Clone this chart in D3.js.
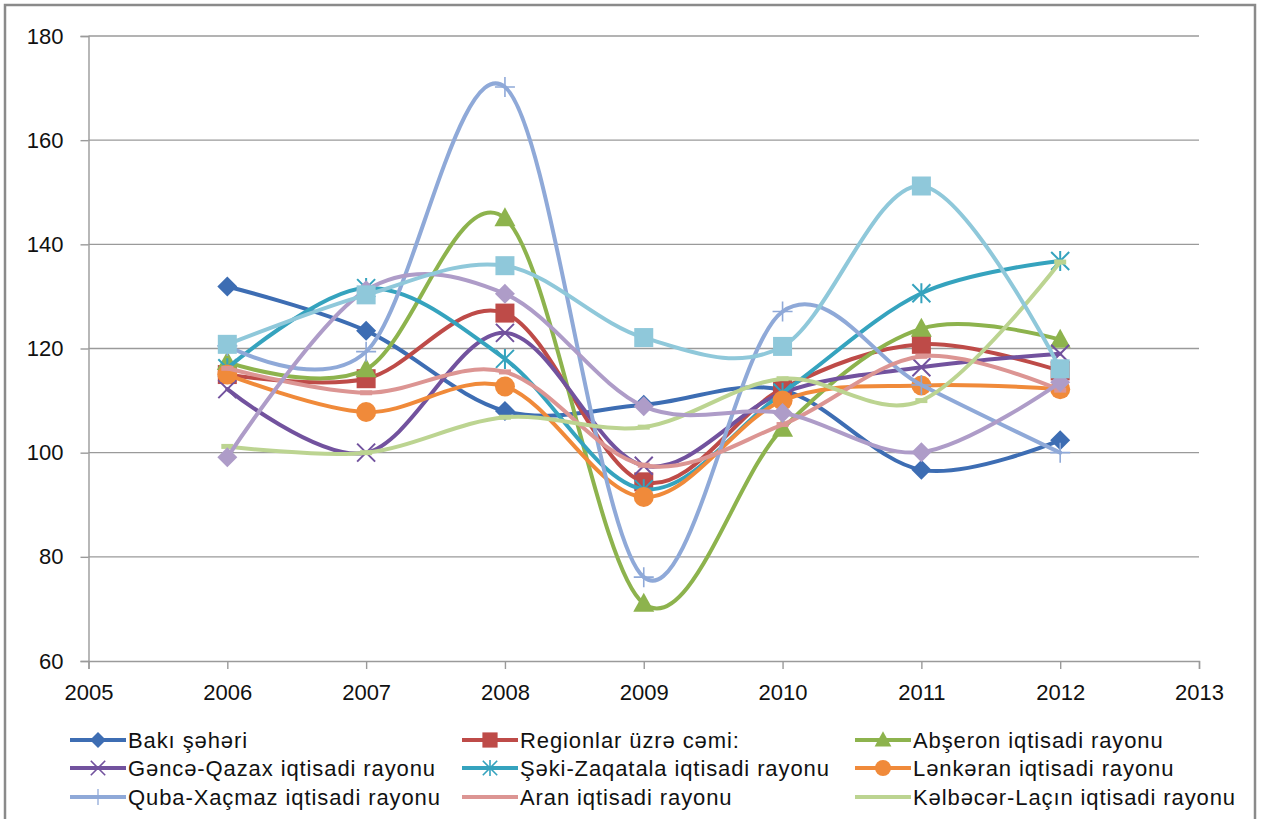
<!DOCTYPE html>
<html><head><meta charset="utf-8">
<script src="https://cdn.jsdelivr.net/npm/d3@7"></script>
<style>
html,body{margin:0;padding:0;background:#fff;}
svg text{font-family:"Liberation Sans",Arial,sans-serif;fill:#111;}
</style></head>
<body><svg id="c" width="1261" height="819"></svg>
<script>
// ---- data ----
const years = [2006, 2007, 2008, 2009, 2010, 2011, 2012];
const xTicks = [2005, 2006, 2007, 2008, 2009, 2010, 2011, 2012, 2013];
const yTicks = [60, 80, 100, 120, 140, 160, 180];

const seriesNames = [
  "Bakı şəhəri",
  "Regionlar üzrə cəmi:",
  "Abşeron iqtisadi rayonu",
  "Gəncə-Qazax iqtisadi rayonu",
  "Şəki-Zaqatala iqtisadi rayonu",
  "Lənkəran iqtisadi rayonu",
  "Quba-Xaçmaz iqtisadi rayonu",
  "Aran iqtisadi rayonu",
  "Kəlbəcər-Laçın iqtisadi rayonu",
  "",
  ""
];
const baki      = [131.9, 123.4, 108.0, 109.2, 112.0, 96.7, 102.4];
const regionlar = [115.0, 114.2, 126.8, 94.4, 112.3, 120.8, 115.7];
const abseron   = [117.4, 116.0, 145.0, 71.0, 104.6, 123.8, 121.7];
const gence     = [112.2, 100.0, 123.0, 97.5, 111.5, 116.4, 119.0];
const seki      = [116.2, 131.6, 118.0, 93.0, 111.5, 130.6, 136.8];
const lenkeran  = [115.0, 107.8, 112.7, 91.5, 110.0, 112.9, 112.2];
const quba      = [120.5, 119.4, 170.2, 76.1, 127.1, 113.0, 100.0];
const aran      = [116.2, 111.5, 115.5, 97.6, 105.4, 118.5, 112.0];
const kelbecer  = [101.2, 100.0, 106.8, 104.9, 114.2, 110.0, 136.6];
const series10  = [99.1, 131.2, 130.5, 108.9, 107.6, 100.1, 113.5];
const series11  = [120.8, 130.3, 135.9, 122.1, 120.4, 151.2, 116.1];
const seriesValues = [baki, regionlar, abseron, gence, seki, lenkeran, quba, aran, kelbecer, series10, series11];

// ---- styles ----
const colors = ["#3D6DB3", "#BE4B48", "#8DB34D", "#72529E", "#35A3BE", "#F08A3A",
                "#8FA9D8", "#DC9593", "#BCD491", "#AE9CC8", "#8FC8DA"];
const markers = ["diamond", "square", "triangle", "x", "star", "circle", "plus", "dash", "dash", "diamond", "square"];

const svg = d3.select("#c");
// outer frame
svg.append("rect").attr("x", 5).attr("y", 5).attr("width", 1250).attr("height", 840)
  .attr("fill", "#fff").attr("stroke", "#8a8a8a").attr("stroke-width", 2.5);

const x = d3.scaleLinear().domain([2005, 2013]).range([88.5, 1199]);
const y = d3.scaleLinear().domain([60, 180]).range([661, 36]);

// gridlines
svg.append("g").selectAll("line").data(yTicks.filter(v => v > 60)).join("line")
  .attr("x1", x(2005)).attr("x2", x(2013))
  .attr("y1", d => y(d)).attr("y2", d => y(d))
  .attr("stroke", "#9a9a9a").attr("stroke-width", 1.4);

// axes
const yAxis = svg.append("g").attr("transform", `translate(${x(2005)},0)`)
  .call(d3.axisLeft(y).tickValues(yTicks).tickSize(8).tickPadding(17));
const xAxis = svg.append("g").attr("transform", `translate(0,${y(60)})`)
  .call(d3.axisBottom(x).tickValues(xTicks).tickFormat(d3.format("d")).tickSize(8).tickPadding(15));
[yAxis, xAxis].forEach(a => {
  a.select(".domain").attr("stroke", "#9a9a9a").attr("stroke-width", 1.4);
  a.selectAll(".tick line").attr("stroke", "#9a9a9a").attr("stroke-width", 1.4);
  a.selectAll(".tick text").attr("font-size", 22).attr("fill", "#111")
    .attr("font-family", "'Liberation Sans', Arial, sans-serif");
});

function marker(g, type, color, cx, cy) {
  const m = g.append("g").attr("transform", `translate(${cx},${cy})`);
  if (type === "diamond") {
    m.append("path").attr("d", "M0,-10L10,0L0,10L-10,0Z").attr("fill", color);
  } else if (type === "square") {
    m.append("rect").attr("x", -9.5).attr("y", -9.5).attr("width", 19).attr("height", 19).attr("fill", color);
  } else if (type === "triangle") {
    m.append("path").attr("d", "M0,-11L10.5,8L-10.5,8Z").attr("fill", color);
  } else if (type === "circle") {
    m.append("circle").attr("r", 10).attr("fill", color);
  } else if (type === "x" || type === "star" || type === "plus") {
    const s = 9;
    let d = "";
    if (type !== "plus") d += `M${-s},${-s}L${s},${s}M${-s},${s}L${s},${-s}`;
    if (type === "star") d += `M0,${-s - 1}L0,${s + 1}`;
    if (type === "plus") d += `M0,${-s - 1}L0,${s + 1}M${-s - 1},0L${s + 1},0`;
    m.append("path").attr("d", d).attr("fill", "none").attr("stroke", color)
      .attr("stroke-width", type === "plus" ? 1.6 : 2);
  } else if (type === "dash") {
    m.append("rect").attr("x", -6).attr("y", -2.5).attr("width", 12).attr("height", 5).attr("fill", color);
  }
}

const line = d3.line().x((d, i) => x(years[i])).y(d => y(d)).curve(d3.curveCardinal.tension(0));
const plot = svg.append("g");
seriesValues.forEach((vals, si) => {
  const g = plot.append("g");
  g.append("path").attr("d", line(vals)).attr("fill", "none")
    .attr("stroke", colors[si]).attr("stroke-width", 4).attr("stroke-linejoin", "round").attr("stroke-linecap", "round");
  vals.forEach((v, i) => marker(g, markers[si], colors[si], x(years[i]), y(v)));
});

// legend
const legCols = [70, 462, 855];
const legRows = [740, 768, 797];
const leg = svg.append("g");
seriesNames.slice(0, 9).forEach((name, i) => {
  const lx = legCols[i % 3], ly = legRows[Math.floor(i / 3)];
  const g = leg.append("g");
  g.append("line").attr("x1", lx).attr("x2", lx + 56).attr("y1", ly).attr("y2", ly)
    .attr("stroke", colors[i]).attr("stroke-width", 4);
  const mg = g.append("g");
  if (markers[i] !== "dash") marker(mg, markers[i], colors[i], lx + 28, ly);
  mg.attr("transform", `translate(${lx + 28},${ly}) scale(0.8) translate(${-(lx + 28)},${-ly})`);
  g.append("text").attr("x", lx + 58).attr("y", ly).attr("dy", "0.36em")
    .attr("font-size", 22).attr("letter-spacing", "0.9px").text(name);
});
</script></body></html>
